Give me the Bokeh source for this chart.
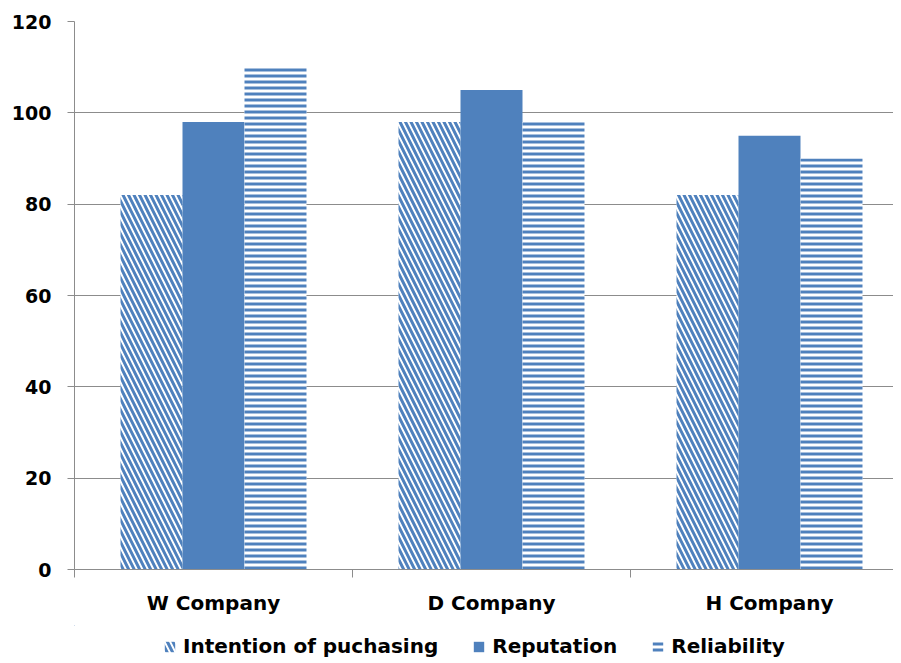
import numpy as np
from bokeh.plotting import figure
from bokeh.layouts import column
from bokeh.models import (ColumnDataSource, Range1d, FixedTicker, Legend, LegendItem,
                          LinearAxis)
from bokeh.embed import file_html
from bokeh.resources import INLINE

companies = ["W Company", "D Company", "H Company"]
series_names = ["Intention of puchasing", "Reputation", "Reliability"]
intention = [82, 98, 82]
reputation = [98, 105, 95]
reliability = [110, 98, 90]
y_ticks = [0, 20, 40, 60, 80, 100, 120]

BLUE = "#4F81BD"
GREY = "#8c8c8c"
FONT = "DejaVu Sans"

centers = np.arange(len(companies)) + 0.5
bw = 0.223

STY = [
    dict(fill_color="white", line_color=None, hatch_pattern="\\", hatch_color=BLUE,
         hatch_scale=11, hatch_weight=3),
    dict(fill_color=BLUE, line_color=None),
    dict(fill_color="white", line_color=None, hatch_pattern="-", hatch_color=BLUE,
         hatch_scale=6, hatch_weight=3),
]

p = figure(frame_width=819, frame_height=548, output_backend="svg", toolbar_location=None,
           x_range=Range1d(0, 819 / 278), y_range=Range1d(0, 120),
           min_border_left=74, min_border_top=21, min_border_right=0, min_border_bottom=56,
           x_axis_location=None)
p.outline_line_color = None

sources = [ColumnDataSource(dict(x=centers - bw, top=intention)),
           ColumnDataSource(dict(x=centers, top=reputation)),
           ColumnDataSource(dict(x=centers + bw, top=reliability))]

for src, s in zip(sources, STY):
    p.vbar(x="x", top="top", width=bw, source=src, **s)

# y axis
yax = p.yaxis[0]
yax.ticker = FixedTicker(ticks=y_ticks)
yax.axis_line_color = GREY
yax.major_tick_line_color = GREY
yax.major_tick_out = 7
yax.major_tick_in = 0
yax.minor_tick_line_color = None
yax.major_label_text_font = FONT
yax.major_label_text_font_style = "bold"
yax.major_label_text_font_size = "19px"
yax.major_label_text_color = "black"
yax.major_label_standoff = 16

p.ygrid.ticker = FixedTicker(ticks=y_ticks)
p.ygrid.grid_line_color = GREY
p.xgrid.grid_line_color = None

# x axis
xax = LinearAxis(ticker=FixedTicker(ticks=list(centers), minor_ticks=[0, 1, 2, 3]))
xax.major_label_overrides = {float(c): n for c, n in zip(centers, companies)}
xax.axis_line_color = GREY
xax.major_tick_line_color = None
xax.minor_tick_line_color = GREY
xax.minor_tick_out = 8
xax.minor_tick_in = 0
xax.major_label_text_font = FONT
xax.major_label_text_font_style = "bold"
xax.major_label_text_font_size = "20px"
xax.major_label_text_color = "black"
xax.major_label_standoff = 13
p.add_layout(xax, "below")

# legend strip (same series, kept outside its visible ranges; only the icons show)
lg = figure(frame_width=893, frame_height=38, output_backend="svg", toolbar_location=None,
            x_range=Range1d(50, 51), y_range=Range1d(-200, -100),
            min_border_left=0, min_border_right=0, min_border_top=0, min_border_bottom=0,
            x_axis_location=None, y_axis_location=None)
lg.outline_line_color = None
lg.xgrid.visible = False
lg.ygrid.visible = False
rs = [lg.vbar(x="x", top="top", width=bw, source=src, **s) for src, s in zip(sources, STY)]

legend = Legend(items=[LegendItem(label=n, renderers=[r]) for n, r in zip(series_names, rs)],
                orientation="horizontal", location=(163, 5))
legend.label_text_font = FONT
legend.label_text_font_style = "bold"
legend.label_text_font_size = "20px"
legend.label_text_color = "black"
legend.glyph_width = 13
legend.glyph_height = 13
legend.label_standoff = 7
legend.spacing = 34
legend.border_line_color = None
legend.background_fill_alpha = 0
legend.padding = 0
legend.margin = 0
lg.add_layout(legend, "center")

layout = column(p, lg, spacing=0)
open("out.html", "w").write(file_html(layout, INLINE))
